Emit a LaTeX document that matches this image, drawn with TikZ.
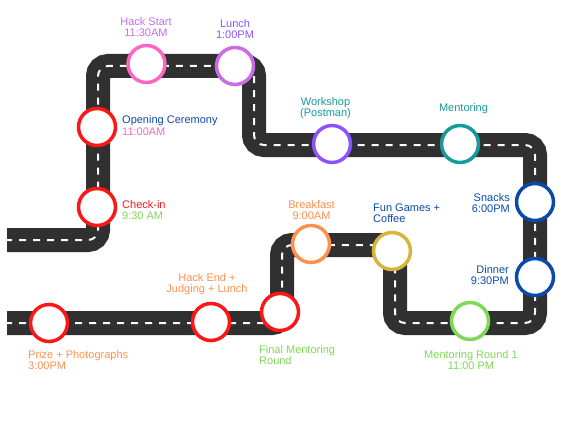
\documentclass[tikz,border=0pt]{standalone}
\usepackage{fontspec}
\setmainfont{Liberation Sans}
\definecolor{cred}{HTML}{FF1616}
\definecolor{cpink}{HTML}{FF66C4}
\definecolor{corchid}{HTML}{CB6CE6}
\definecolor{cviolet}{HTML}{8C52FF}
\definecolor{cteal}{HTML}{16999A}
\definecolor{cblue}{HTML}{0B4AAA}
\definecolor{corange}{HTML}{FF914D}
\definecolor{cgold}{HTML}{D9B43C}
\definecolor{cgreen}{HTML}{7ED957}
\definecolor{croad}{HTML}{303030}
\tikzset{
  road/.style={draw=croad, line width=24pt, rounded corners=10pt},
  lane/.style={draw=white, line width=2pt, rounded corners=10pt, dash pattern=on 7pt off 7pt, dash phase=2pt},
  stop/.style={circle, draw=#1, fill=white, line width=3.5pt, minimum size=37pt, inner sep=0pt},
  lbl/.style={text=#1, font=\fontsize{11pt}{11pt}\selectfont, inner sep=0pt},
}
\begin{document}
\begin{tikzpicture}[x=1pt,y=-1pt]
\useasboundingbox (0,0) rectangle (577,433);
% road corners
\coordinate (r0) at (7,240);
\coordinate (r1) at (98,240);
\coordinate (r2) at (98,66);
\coordinate (r3) at (254,66);
\coordinate (r4) at (254,145);
\coordinate (r5) at (535,145);
\coordinate (r6) at (535,323);
\coordinate (r7) at (395,323);
\coordinate (r8) at (395,245);
\coordinate (r9) at (282,245);
\coordinate (r10) at (282,323);
\coordinate (r11) at (7,323);
\draw[road] (r0) -- (r1) -- (r2) -- (r3) -- (r4) -- (r5) -- (r6) -- (r7) -- (r8) -- (r9) -- (r10) -- (r11);
\draw[lane] (r0) -- (r1) -- (r2) -- (r3) -- (r4) -- (r5) -- (r6) -- (r7) -- (r8) -- (r9) -- (r10) -- (r11);
% stops
\node[stop=cred] (checkin) at (97,207) {};
\node[stop=cred] (opening) at (97,127) {};
\node[stop=cpink] (hackstart) at (146.5,64) {};
\node[stop=corchid] (lunch) at (235,66) {};
\node[stop=cviolet] (workshop) at (332,144) {};
\node[stop=cteal] (mentoring) at (460,144) {};
\node[stop=cblue] (snacks) at (535,202) {};
\node[stop=cblue] (dinner) at (535,277) {};
\node[stop=cgreen] (mr1) at (470,321) {};
\node[stop=cgold] (fungames) at (392,251) {};
\node[stop=corange] (breakfast) at (311,244) {};
\node[stop=cred] (finalm) at (280,312) {};
\node[stop=cred] (hackend) at (211,322) {};
\node[stop=cred] (prize) at (49,323) {};
% labels
\node[lbl=corchid, align=center] (lhackstart) at (146,27) {Hack Start\\11:30AM};
\node[lbl=cviolet, align=center] (llunch) at (235,29) {Lunch\\1:00PM};
\node[lbl=cblue, anchor=west] (lopening) at (122,121) {Opening Ceremony};
\node[lbl=cpink, anchor=west] (lopening2) at (122,132) {11:00AM};
\node[lbl=cred, anchor=west] (lcheckin) at (122,205) {Check-in};
\node[lbl=cgreen, anchor=west] (lcheckin2) at (122,216) {9:30 AM};
\node[lbl=cteal, align=center] (lworkshop) at (325.5,108) {Workshop\\(Postman)};
\node[lbl=cteal] (lmentoring) at (463.5,108.5) {Mentoring};
\node[lbl=cblue, align=right, anchor=east] (lsnacks) at (510,203) {Snacks\\6:00PM};
\node[lbl=cblue, align=right, anchor=east] (ldinner) at (509,275.5) {Dinner\\9:30PM};
\node[lbl=corange, align=center] (lbreakfast) at (311.5,210.5) {Breakfast\\9:00AM};
\node[lbl=cblue, align=left, anchor=west] (lfungames) at (373,213) {Fun Games +\\Coffee};
\node[lbl=cgreen, align=center] (lmr1) at (471,360) {Mentoring Round 1\\11:00 PM};
\node[lbl=corange, align=center] (lhackend) at (207,284.5) {Hack End +\\Judging + Lunch};
\node[lbl=cgreen, align=left, anchor=west] (lfinalm) at (259,355) {Final Mentoring\\Round};
\node[lbl=corange, align=left, anchor=west] (lprize) at (28,360.5) {Prize + Photographs\\3:00PM};
\end{tikzpicture}
\end{document}
